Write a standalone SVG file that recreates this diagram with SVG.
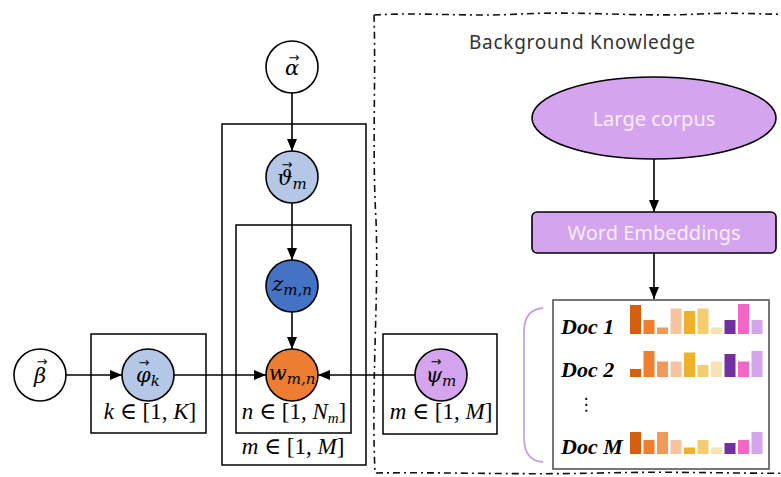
<svg xmlns="http://www.w3.org/2000/svg" width="781" height="477" viewBox="0 0 781 477">
<style>
.plate{fill:none;stroke:#000;stroke-width:1.5}
.node{stroke:#000;stroke-width:1.6}
.edge{stroke:#000;stroke-width:1.6;fill:none}
.math{font-family:"DejaVu Serif","Liberation Serif",serif;font-style:italic;font-size:21px;fill:#000}
.vec{font-family:"DejaVu Sans",sans-serif;font-size:13px;fill:#000}
.lbl{font-family:"Liberation Serif","DejaVu Serif",serif;font-size:23px;fill:#000}
.sub{font-size:15px}
.doc{font-family:"Liberation Serif",serif;font-style:italic;font-weight:bold;font-size:22px;fill:#000}
.ui{font-family:"Noto Sans","Open Sans",sans-serif}
</style>
<defs>
<marker id="ah" viewBox="0 0 12 10" refX="12" refY="5" markerWidth="12" markerHeight="10" markerUnits="userSpaceOnUse" orient="auto">
<path d="M0,0 L12,5 L0,10 Z" fill="#000"/>
</marker>
</defs>
<rect width="781" height="477" fill="#fff"/>

<!-- background knowledge border -->
<path d="M374,15 C420,12 470,17 520,14 C580,11 640,17 700,14 C740,12 770,15 795,14 M374,15 C376,80 372,150 376,220 C379,300 371,380 375,473 C450,472 520,475 600,473 C680,471 740,474 795,473" fill="none" stroke="#111" stroke-width="1.6" stroke-dasharray="7 4 2 4"/>
<text class="ui" x="582" y="49" text-anchor="middle" font-size="19" fill="#333" textLength="226">Background Knowledge</text>

<!-- plates -->
<g id="plate-m"><rect class="plate" x="222" y="124" width="144" height="341"/><text class="lbl" x="293" y="454" text-anchor="middle"><tspan font-style="italic">m</tspan> ∈ [1, <tspan font-style="italic">M</tspan>]</text></g>
<g id="plate-n"><rect class="plate" x="236" y="225" width="115" height="208"/><text class="lbl" x="294" y="419" text-anchor="middle"><tspan font-style="italic">n</tspan> ∈ [1, <tspan font-style="italic">N</tspan><tspan font-style="italic" font-size="15" dy="4">m</tspan><tspan dy="-4">]</tspan></text></g>
<g id="plate-k"><rect class="plate" x="91" y="334" width="115" height="99"/><text class="lbl" x="150" y="419" text-anchor="middle"><tspan font-style="italic">k</tspan> ∈ [1, <tspan font-style="italic">K</tspan>]</text></g>
<g id="plate-psi"><rect class="plate" x="383" y="334" width="114" height="100"/><text class="lbl" x="441" y="419" text-anchor="middle"><tspan font-style="italic">m</tspan> ∈ [1, <tspan font-style="italic">M</tspan>]</text></g>

<!-- connectors -->
<g id="edges">
<line class="edge" x1="292" y1="93" x2="292" y2="151" marker-end="url(#ah)"/>
<line class="edge" x1="292" y1="203" x2="292" y2="260" marker-end="url(#ah)"/>
<line class="edge" x1="292" y1="312" x2="292" y2="349" marker-end="url(#ah)"/>
<line class="edge" x1="66" y1="375" x2="122" y2="375" marker-end="url(#ah)"/>
<line class="edge" x1="174" y1="375" x2="266" y2="375" marker-end="url(#ah)"/>
<line class="edge" x1="415" y1="375" x2="318" y2="375" marker-end="url(#ah)"/>
<line class="edge" x1="654" y1="159" x2="654" y2="212" marker-end="url(#ah)"/>
<line class="edge" x1="654" y1="253" x2="654" y2="299" marker-end="url(#ah)"/>
</g>

<!-- nodes -->
<g id="alpha"><circle class="node" cx="292" cy="67" r="26" fill="#fff"/><text class="math" x="292" y="75" text-anchor="middle">α</text><text class="vec" x="294" y="62" text-anchor="middle">→</text></g>
<g id="theta"><circle class="node" cx="292" cy="177" r="26" fill="#B4C7E7"/><text class="math" x="292" y="185" text-anchor="middle">ϑ<tspan class="sub" dy="4">m</tspan></text><text class="vec" x="287" y="169" text-anchor="middle">→</text></g>
<g id="z"><circle class="node" cx="292" cy="286" r="26" fill="#4472C4"/><text class="math" x="292" y="291" text-anchor="middle">z<tspan class="sub" dy="4">m,n</tspan></text></g>
<g id="w"><circle class="node" cx="292" cy="375" r="26" fill="#ED7D31"/><text class="math" x="292" y="380" text-anchor="middle">w<tspan class="sub" dy="4">m,n</tspan></text></g>
<g id="beta"><circle class="node" cx="40" cy="375" r="26" fill="#fff"/><text class="math" x="40" y="383" text-anchor="middle">β</text><text class="vec" x="42" y="366" text-anchor="middle">→</text></g>
<g id="phi"><circle class="node" cx="148" cy="375" r="26" fill="#B4C7E7"/><text class="math" x="148" y="382" text-anchor="middle">φ<tspan class="sub" dy="4">k</tspan></text><text class="vec" x="144" y="367" text-anchor="middle" font-size="16">→</text></g>
<g id="psi"><circle class="node" cx="441" cy="375" r="26" fill="#D4A5EE"/><text class="math" x="441" y="382" text-anchor="middle">ψ<tspan class="sub" dy="4">m</tspan></text><text class="vec" x="436" y="366" text-anchor="middle">→</text></g>

<g id="corpus"><ellipse class="node" cx="654" cy="118" rx="122" ry="41" fill="#D4A5EE"/><text class="ui" x="654" y="126" text-anchor="middle" font-size="20" fill="#F6EEFA">Large corpus</text></g>
<g id="embeddings"><rect class="node" x="532" y="212" width="244" height="41" rx="5" fill="#D4A5EE"/><text class="ui" x="654" y="240" text-anchor="middle" font-size="20" fill="#F6EEFA">Word Embeddings</text></g>

<g id="docs">
<path d="M543,308 C530,309 524,318 524,332 L524,438 C524,452 530,461 543,462" fill="none" stroke="#C9A0E8" stroke-width="1.8"/>
<rect x="553" y="300" width="216" height="169" fill="#fff" stroke="#555" stroke-width="1.6"/>
<text class="doc" x="561" y="334">Doc 1</text>
<text class="doc" x="561" y="377">Doc 2</text>
<text x="586" y="410" font-family="DejaVu Sans,sans-serif" font-size="17" text-anchor="middle">⋮</text>
<text class="doc" x="561" y="454">Doc M</text>
<g id="bars1">
<rect x="630" y="305" width="11" height="29" fill="#D35F0F"/>
<rect x="643.5" y="320" width="11" height="14" fill="#EE7F2E"/>
<rect x="657" y="327.5" width="11" height="6.5" fill="#F29A55"/>
<rect x="670.5" y="308.5" width="11" height="25.5" fill="#F8C4A0"/>
<rect x="684" y="311" width="11" height="23" fill="#F0B02A"/>
<rect x="697.5" y="308.5" width="11" height="25.5" fill="#F5CC70"/>
<rect x="711" y="327.5" width="11" height="6.5" fill="#FAE2AE"/>
<rect x="724.5" y="320" width="11" height="14" fill="#7030A0"/>
<rect x="738" y="304" width="11" height="30" fill="#F266C8"/>
<rect x="751.5" y="320" width="11" height="14" fill="#D3A5EC"/>
</g>
<g id="bars2">
<rect x="630" y="369" width="11" height="8" fill="#D35F0F"/>
<rect x="643.5" y="351" width="11" height="26" fill="#EE7F2E"/>
<rect x="657" y="361.5" width="11" height="15.5" fill="#F29A55"/>
<rect x="670.5" y="361.5" width="11" height="15.5" fill="#F8C4A0"/>
<rect x="684" y="352.5" width="11" height="24.5" fill="#F0B02A"/>
<rect x="697.5" y="365" width="11" height="12" fill="#F5CC70"/>
<rect x="711" y="361.5" width="11" height="15.5" fill="#FAE2AE"/>
<rect x="724.5" y="354" width="11" height="23" fill="#7030A0"/>
<rect x="738" y="361.5" width="11" height="15.5" fill="#F266C8"/>
<rect x="751.5" y="351" width="11" height="26" fill="#D3A5EC"/>
</g>
<g id="barsM">
<rect x="630" y="432" width="11" height="22" fill="#D35F0F"/>
<rect x="643.5" y="440" width="11" height="14" fill="#EE7F2E"/>
<rect x="657" y="432" width="11" height="22" fill="#F29A55"/>
<rect x="670.5" y="440" width="11" height="14" fill="#F8C4A0"/>
<rect x="684" y="447.5" width="11" height="6.5" fill="#F0B02A"/>
<rect x="697.5" y="440" width="11" height="14" fill="#F5CC70"/>
<rect x="711" y="447.5" width="11" height="6.5" fill="#FAE2AE"/>
<rect x="724.5" y="443" width="11" height="11" fill="#7030A0"/>
<rect x="738" y="440" width="11" height="14" fill="#F266C8"/>
<rect x="751.5" y="432" width="11" height="22" fill="#D3A5EC"/>
</g>
</g>
</svg>
